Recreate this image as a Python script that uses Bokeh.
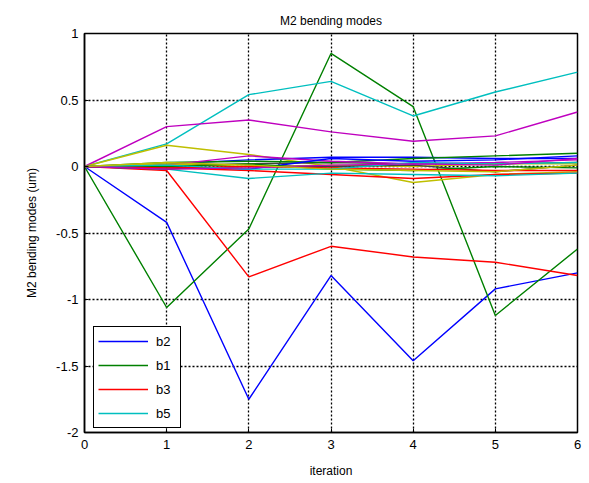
from bokeh.plotting import figure
from bokeh.models import Legend, LegendItem, FixedTicker
from bokeh.embed import file_html
from bokeh.resources import INLINE

iterations = [0, 1, 2, 3, 4, 5, 6]

b2 = [0, -0.42, -1.75, -0.82, -1.46, -0.92, -0.80]
b1 = [0, -1.06, -0.47, 0.85, 0.45, -1.12, -0.62]
b3 = [0, -0.03, -0.83, -0.60, -0.68, -0.72, -0.82]
b5 = [0, 0.17, 0.54, 0.64, 0.38, 0.56, 0.71]
s5 = [0, 0.30, 0.35, 0.26, 0.19, 0.23, 0.41]
s6 = [0, 0.16, 0.09, 0.00, -0.12, -0.06, -0.04]
s7 = [0, 0.01, 0.02, 0.03, 0.02, 0.02, 0.03]
s8 = [0, 0.02, 0.05, 0.07, 0.07, 0.06, 0.06]
s9 = [0, 0.03, 0.04, 0.03, 0.06, 0.08, 0.10]
s10 = [0, -0.01, -0.03, -0.06, -0.09, -0.06, -0.05]
s11 = [0, -0.02, -0.09, -0.05, -0.06, -0.07, -0.05]
s12 = [0, 0.01, 0.08, 0.04, 0.02, 0.03, 0.05]
s13 = [0, 0.02, 0.00, 0.01, 0.00, 0.02, 0.02]
s14 = [0, -0.02, 0.00, 0.00, 0.01, -0.04, 0.01]
s15 = [0, 0.00, -0.02, 0.06, 0.04, 0.05, 0.08]
s16 = [0, 0.00, 0.02, -0.02, -0.03, 0.00, -0.01]
s17 = [0, -0.01, 0.00, -0.01, -0.02, -0.03, -0.03]
s18 = [0, 0.01, -0.02, -0.02, 0.03, 0.02, 0.03]
s19 = [0, -0.02, -0.01, 0.01, 0.02, 0.01, 0.06]
s20 = [0, 0.03, 0.01, -0.02, -0.03, -0.04, 0.01]

series = [b2, b1, b3, b5, s5, s6, s7, s8, s9, s10, s11, s12, s13, s14,
          s15, s16, s17, s18, s19, s20]
legend_labels = ["b2", "b1", "b3", "b5"]
colors = ["#0000ff", "#008000", "#ff0000", "#00bfbf", "#bf00bf", "#bfbf00", "#404040"]

y_ticks = [-2, -1.5, -1, -0.5, 0, 0.5, 1]
y_tick_labels = ["-2", "-1.5", "-1", "-0.5", "0", "0.5", "1"]
x_ticks = [0, 1, 2, 3, 4, 5, 6]

FONT = "Liberation Sans"

p = figure(frame_width=493, frame_height=399, output_backend="svg",
           toolbar_location=None, x_range=(0, 6), y_range=(-2, 1),
           min_border_left=84, min_border_right=12, min_border_top=33,
           min_border_bottom=51, title="M2 bending modes",
           background_fill_color="white", border_fill_color="white")

p.title.align = "center"
p.title.text_font = FONT
p.title.text_font_size = "12px"
p.title.text_font_style = "normal"
p.title.text_color = "black"
p.title.vertical_align = "middle"

renderers = []
for i, s in enumerate(series):
    r = p.line(iterations, s, line_color=colors[i % len(colors)], line_width=1.4)
    renderers.append(r)

for ax in (p.xaxis[0], p.yaxis[0]):
    ax.major_tick_in = 4
    ax.major_tick_out = 0
    ax.minor_tick_line_color = None
    ax.axis_line_color = "black"
    ax.axis_line_width = 1.5
    ax.major_tick_line_color = "black"
    ax.major_label_text_font = FONT
    ax.major_label_text_font_size = "13px"
    ax.major_label_text_color = "black"
    ax.axis_label_text_font = FONT
    ax.axis_label_text_font_size = "12px"
    ax.axis_label_text_font_style = "normal"
    ax.axis_label_text_color = "black"

p.xaxis.ticker = FixedTicker(ticks=x_ticks)
p.yaxis.ticker = FixedTicker(ticks=y_ticks)
p.yaxis.major_label_overrides = {t: l for t, l in zip(y_ticks, y_tick_labels)}
p.xaxis.axis_label = "iteration"
p.yaxis.axis_label = "M2 bending modes (um)"
p.xaxis.major_label_standoff = 7
p.yaxis.major_label_standoff = 6
p.xaxis.axis_label_standoff = 12
p.yaxis.axis_label_standoff = 14

p.xgrid.ticker = FixedTicker(ticks=x_ticks)
p.ygrid.ticker = FixedTicker(ticks=y_ticks)
for g in (p.xgrid[0], p.ygrid[0]):
    g.grid_line_color = "black"
    g.grid_line_dash = "2 2"
    g.grid_line_width = 1.3
    g.grid_line_alpha = 1.0

p.outline_line_color = "black"
p.outline_line_width = 1.5
p.outline_line_alpha = 1.0

legend = Legend(items=[LegendItem(label=legend_labels[i], renderers=[renderers[i]])
                       for i in range(4)],
                location=(9, 4))
legend.label_text_font = FONT
legend.label_text_font_size = "13px"
legend.label_text_color = "black"
legend.border_line_color = "black"
legend.border_line_width = 1.5
legend.border_line_alpha = 1.0
legend.glyph_width = 50
legend.glyph_height = 20
legend.label_height = 20
legend.spacing = 4
legend.padding = 4
legend.margin = 0
legend.label_standoff = 8
legend.background_fill_alpha = 1.0
p.add_layout(legend, "center")

open("out.html", "w").write(file_html(p, INLINE))
